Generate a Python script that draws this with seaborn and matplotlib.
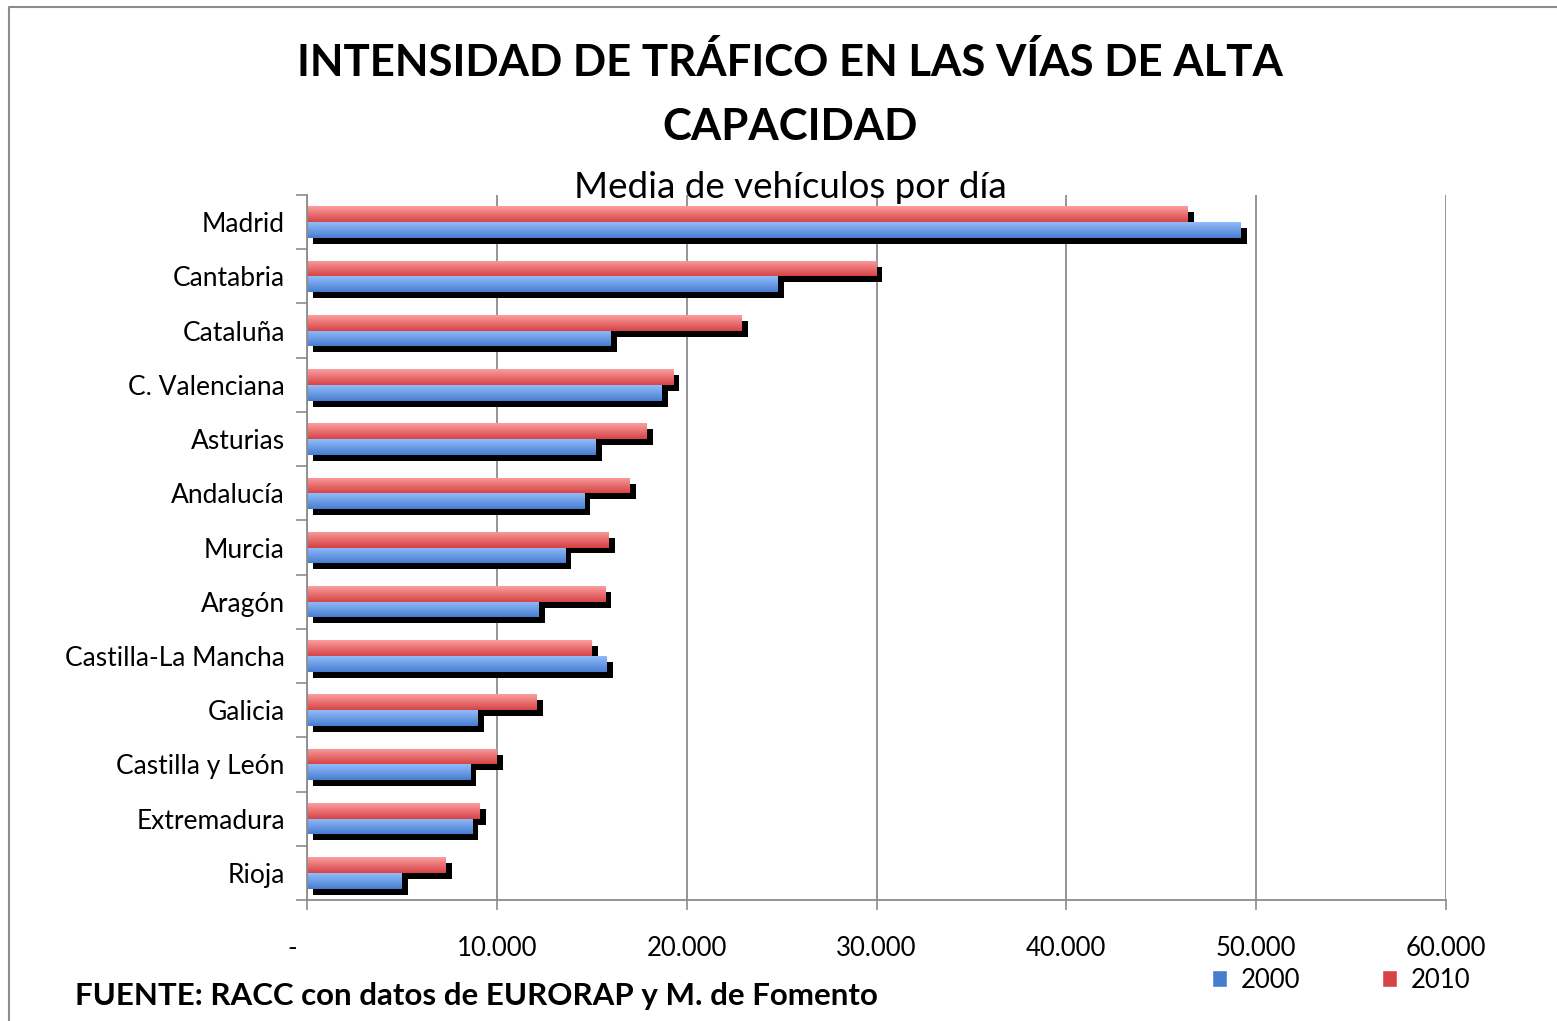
import matplotlib.pyplot as plt
import matplotlib.patheffects as pe
import matplotlib.transforms as mtransforms
import numpy as np
import pandas as pd
import seaborn as sns
from matplotlib.colors import to_rgb
from matplotlib.lines import Line2D
from matplotlib.patches import Patch

REGIONS = [
    "Madrid", "Cantabria", "Cataluña", "C. Valenciana", "Asturias", "Andalucía",
    "Murcia", "Aragón", "Castilla-La Mancha", "Galicia", "Castilla y León",
    "Extremadura", "Rioja",
]
VALUES_2000 = [49200, 24800, 16000, 18700, 15200, 14600, 13600, 12200, 15800, 9000, 8600, 8700, 5000]
VALUES_2010 = [46400, 30000, 22900, 19300, 17900, 17000, 15900, 15700, 15000, 12100, 10000, 9100, 7300]
YEARS = ["2010", "2000"]
LEGEND_ORDER = ["2000", "2010"]

X_TICKS = [0, 10000, 20000, 30000, 40000, 50000, 60000]
X_TICK_LABELS = ["-", "10.000", "20.000", "30.000", "40.000", "50.000", "60.000"]

TITLE_LINES = ["INTENSIDAD DE TRÁFICO EN LAS VÍAS DE ALTA", "CAPACIDAD"]
SUBTITLE = "Media de vehículos por día"
SOURCE = "FUENTE: RACC con datos de EURORAP y M. de Fomento"

# top / bottom colours of the gradient fill
GRADIENTS = {"2000": ("#92bcfa", "#477dd0"), "2010": ("#fb9e9e", "#d64446")}
GREY = "#8c8c8c"
FONT = ["Lato", "DejaVu Sans"]


def build_frame() -> pd.DataFrame:
    rows = []
    for region, v00, v10 in zip(REGIONS, VALUES_2000, VALUES_2010):
        rows.append({"region": region, "year": "2010", "value": v10})
        rows.append({"region": region, "year": "2000", "value": v00})
    return pd.DataFrame(rows)


def add_gradients(ax, hue_order):
    xlim, ylim = ax.get_xlim(), ax.get_ylim()
    for container, year in zip(ax.containers, hue_order):
        top, bottom = (np.array(to_rgb(c)) for c in GRADIENTS[year])
        t = np.linspace(0, 1, 64).reshape(-1, 1, 1)
        img = top * (1 - t) + bottom * t
        for bar in container:
            x0, y0 = bar.get_x(), bar.get_y()
            w, h = bar.get_width(), bar.get_height()
            im = ax.imshow(img, extent=(x0, x0 + w, y0 + h, y0), origin="upper",
                           aspect="auto", zorder=2.5, interpolation="bilinear")
            im.set_clip_path(bar)
    ax.set_xlim(xlim)
    ax.set_ylim(ylim)


def main() -> None:
    df = build_frame()
    sns.set_theme(style="white")
    plt.rcParams["font.family"] = FONT
    plt.rcParams["text.color"] = "black"
    plt.rcParams["xtick.labelcolor"] = "black"
    plt.rcParams["ytick.labelcolor"] = "black"

    fig = plt.figure(figsize=(15.57, 10.21), dpi=100)
    ax = fig.add_axes([307 / 1557, 1 - 900 / 1021, (1446 - 307) / 1557, (900 - 195) / 1021])

    sns.barplot(data=df, y="region", x="value", hue="year", hue_order=YEARS,
                order=REGIONS, orient="h", width=0.58, palette=[GRADIENTS[y][1] for y in YEARS],
                linewidth=0, saturation=1, legend=False, ax=ax)

    shadow = [pe.SimplePatchShadow(offset=(4.3, -4.3), shadow_rgbFace="black", alpha=1.0), pe.Normal()]
    for patch in ax.patches:
        patch.set_path_effects(shadow)
        patch.set_zorder(2)

    add_gradients(ax, YEARS)

    ax.set_xlim(0, 60000)
    ax.set_ylim(len(REGIONS) - 0.5, -0.5)
    ax.set_xticks(X_TICKS)
    ax.set_xticklabels(X_TICK_LABELS, fontsize=18.5, color="black")
    ax.set_yticks(np.arange(-0.5, len(REGIONS), 1))
    ax.set_yticklabels([])
    ax.set_yticks(np.arange(len(REGIONS)), minor=True)
    ax.set_yticklabels(REGIONS, minor=True, fontsize=19, color="black")
    ax.tick_params(axis="y", which="major", length=8, width=1.2, color=GREY, direction="out", left=True)
    ax.tick_params(axis="y", which="minor", length=0, pad=16, left=True)
    ax.tick_params(axis="x", length=7, width=1.2, color=GREY, direction="out", bottom=True, pad=19)
    shift = mtransforms.ScaledTranslation(-15 / 100, 0, fig.dpi_scale_trans)
    zero_label = ax.get_xticklabels()[0]
    zero_label.set_transform(zero_label.get_transform() + shift)

    ax.grid(axis="x", color=GREY, linewidth=1.3)
    ax.set_axisbelow(True)
    for side in ("top", "right"):
        ax.spines[side].set_visible(False)
    for side in ("left", "bottom"):
        ax.spines[side].set_color(GREY)
        ax.spines[side].set_linewidth(1.3)
    ax.set_xlabel("")
    ax.set_ylabel("")

    cx = 790 / 1557
    fig.text(cx, 1 - 62 / 1021, TITLE_LINES[0], ha="center", va="center", fontsize=31.5, fontweight="bold")
    fig.text(cx, 1 - 127 / 1021, TITLE_LINES[1], ha="center", va="center", fontsize=31.5, fontweight="bold")
    fig.text(cx, 1 - 187 / 1021, SUBTITLE, ha="center", va="center", fontsize=26.5)
    fig.text(75 / 1557, 1 - 996 / 1021, SOURCE, ha="left", va="center", fontsize=22.5, fontweight="bold")

    handles = [Patch(facecolor=GRADIENTS[y][1], label=y) for y in LEGEND_ORDER]
    fig.legend(handles=handles, loc="center left", bbox_to_anchor=(1212 / 1557, 1 - 980 / 1021),
               ncol=2, frameon=False, fontsize=18.5, handlelength=0.6, handleheight=0.6,
               handletextpad=0.5, columnspacing=3.2, borderaxespad=0, borderpad=0)

    fig.add_artist(Line2D([9 / 1557, 9 / 1557, 1.0], [0.0, 1 - 7 / 1021, 1 - 7 / 1021],
                          transform=fig.transFigure, color=GREY, linewidth=1.5))

    fig.savefig("out.png", dpi=100)
    plt.close(fig)


if __name__ == "__main__":
    main()
